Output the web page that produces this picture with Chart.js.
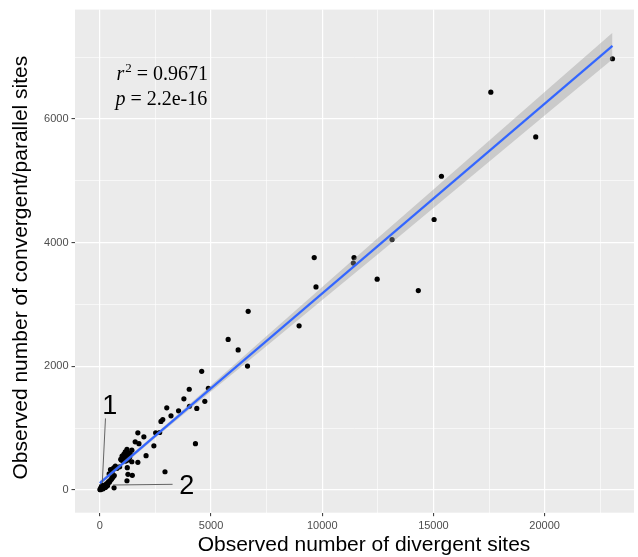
<!DOCTYPE html>
<html>
<head>
<meta charset="utf-8">
<script src="https://cdn.jsdelivr.net/npm/chart.js@4"></script>
<style>
  body { margin: 0; background: #fff; }
</style>
</head>
<body>
<canvas id="sitesChart" width="638" height="557"></canvas>
<script>
// observed sites, one entry per point (x = divergent, y = convergent/parallel)
const divergent = [
  23050, 17580, 19600, 15360, 15030, 13140, 11430, 11400, 9640, 9720,
  12470, 14320, 6670, 8960, 5770, 6220, 6640, 4580, 4880, 4020,
  4720, 4360, 3780, 4030, 3540, 3200, 3010, 2830, 2750, 2690,
  2510, 1710, 1980, 1590, 1760, 2430, 4300, 1440, 2080, 1710,
  1440, 2930, 1460, 1220, 1265, 640, 1235, 1160, 1370, 1030,
  970, 1160, 1295, 1220, 1145, 1265, 1085, 1295, 1000, 1115,
  1340, 940, 1040, 1190, 625, 775, 890, 595,
  20, 40, 60, 85, 100, 120, 150, 180, 200, 230,
  260, 300, 330, 360, 400, 430, 470, 520, 560, 600,
  650, 300, 250, 150, 350, 480, 560, 700, 420, 50,
  10, 80, 110
];
const convergent = [
  6975, 6435, 5710, 5075, 4375, 4050, 3760, 3670, 3760, 3285,
  3410, 3225, 2890, 2655, 2435, 2265, 2005, 1920, 1645, 1630,
  1435, 1320, 1475, 1355, 1280, 1200, 1330, 1140, 1110, 930,
  925, 925, 860, 780, 750, 715, 750, 645, 555, 447,
  457, 295, 237, 150, 254, 35, 361, 565, 582, 528,
  485, 468, 485, 657, 619, 603, 582, 554, 549, 528,
  528, 496, 468, 485, 360, 350, 376, 335,
  5, 12, 18, 25, 35, 22, 45, 58, 48, 72,
  85, 98, 88, 115, 135, 125, 155, 175, 195, 215,
  235, 62, 42, 20, 72, 330, 300, 385, 260, 40,
  10, 60, 80
];

// fitted line and its confidence band
const fitX = [0, 23050];
const fitY = [110, 7182];
const bandX = [0, 2500, 5000, 7500, 10000, 12500, 15000, 17500, 20000, 23050];
const bandUpper = [145, 907, 1694, 2491, 3283, 4075, 4862, 5649, 6436, 7397];
const bandLower = [75, 847, 1594, 2331, 3073, 3815, 4562, 5309, 6056, 6967];

// labelled (major) ticks and all grid positions (major + minor)
const xTickLabels = [0, 5000, 10000, 15000, 20000];
const xGrid = [0, 2500, 5000, 7500, 10000, 12500, 15000, 17500, 20000, 22500];
const yTickLabels = [0, 2000, 4000, 6000];
const yGrid = [0, 1000, 2000, 3000, 4000, 5000, 6000, 7000];

const xTitle = 'Observed number of divergent sites';
const yTitle = 'Observed number of convergent/parallel sites';

const sans = "'Liberation Sans', Arial, Helvetica, sans-serif";
const serif = "'Liberation Serif', 'Times New Roman', serif";

const panelBackground = {
  id: 'panelBackground',
  beforeDraw(chart) {
    const { ctx, chartArea: a } = chart;
    ctx.save();
    ctx.fillStyle = '#ebebeb';
    ctx.fillRect(a.left, a.top, a.right - a.left, a.bottom - a.top);
    ctx.restore();
  }
};

// the "1" / "2" callouts and the r^2 / p text, placed in data units
const callouts = [
  { label: '1', at: [446, 1352], from: [254, 1158], to: [112, 121] },
  { label: '2', at: [3906, 60], from: [3272, 92], to: [594, 81] }
];
const statsAt = { x: 745, y1: 6720, y2: 6317 };

const annotations = {
  id: 'annotations',
  afterDatasetsDraw(chart) {
    const { ctx, scales: { x, y } } = chart;
    ctx.save();
    callouts.forEach(c => {
      ctx.strokeStyle = '#555';
      ctx.lineWidth = 0.9;
      ctx.beginPath();
      ctx.moveTo(x.getPixelForValue(c.from[0]), y.getPixelForValue(c.from[1]));
      ctx.lineTo(x.getPixelForValue(c.to[0]), y.getPixelForValue(c.to[1]));
      ctx.stroke();
      ctx.fillStyle = '#000';
      ctx.font = '27px ' + sans;
      ctx.textAlign = 'center';
      ctx.textBaseline = 'middle';
      ctx.fillText(c.label, x.getPixelForValue(c.at[0]), y.getPixelForValue(c.at[1]));
    });

    ctx.fillStyle = '#000';
    ctx.textAlign = 'left';
    ctx.textBaseline = 'middle';
    let px = x.getPixelForValue(statsAt.x);
    const py1 = y.getPixelForValue(statsAt.y1);
    const py2 = y.getPixelForValue(statsAt.y2);

    ctx.font = 'italic 20px ' + serif;
    ctx.fillText('r', px, py1);
    px += ctx.measureText('r').width + 1;
    ctx.font = '13px ' + serif;
    ctx.fillText('2', px, py1 - 6);
    px += ctx.measureText('2').width;
    ctx.font = '20px ' + serif;
    ctx.fillText(' = 0.9671', px, py1);

    px = x.getPixelForValue(statsAt.x) - 1;
    ctx.font = 'italic 20px ' + serif;
    ctx.fillText('p', px, py2);
    px += ctx.measureText('p').width;
    ctx.font = '20px ' + serif;
    ctx.fillText(' = 2.2e-16', px, py2);
    ctx.restore();
  }
};

// axis titles, centred on the full (partly cropped) panel like the original
const axisTitles = {
  id: 'axisTitles',
  afterDraw(chart) {
    const { ctx, chartArea: a } = chart;
    ctx.save();
    ctx.fillStyle = '#000';
    ctx.font = '21px ' + sans;
    ctx.textAlign = 'center';
    ctx.textBaseline = 'middle';
    ctx.fillText(xTitle, a.left + 289, a.bottom + 33);
    ctx.translate(21, a.top + 258);
    ctx.rotate(-Math.PI / 2);
    ctx.fillText(yTitle, 0, 0);
    ctx.restore();
  }
};

const toPoints = (xs, ys) => xs.map((v, i) => ({ x: v, y: ys[i] }));

new Chart(document.getElementById('sitesChart'), {
  type: 'scatter',
  data: {
    datasets: [
      {
        data: toPoints(divergent, convergent),
        backgroundColor: '#000',
        borderWidth: 0,
        pointRadius: 2.6,
        order: 3
      },
      {
        type: 'line',
        data: toPoints(bandX, bandLower),
        borderWidth: 0,
        borderColor: 'rgba(0,0,0,0)',
        pointRadius: 0,
        fill: false,
        order: 2
      },
      {
        type: 'line',
        data: toPoints(bandX, bandUpper),
        borderWidth: 0,
        borderColor: 'rgba(0,0,0,0)',
        backgroundColor: 'rgba(153,153,153,0.4)',
        pointRadius: 0,
        fill: '-1',
        order: 2
      },
      {
        type: 'line',
        data: toPoints(fitX, fitY),
        borderColor: '#3366ff',
        borderWidth: 2.2,
        pointRadius: 0,
        fill: false,
        order: 1
      }
    ]
  },
  options: {
    responsive: false,
    animation: false,
    events: [],
    layout: { padding: { top: 9, right: 0, left: 0, bottom: 0 } },
    plugins: {
      legend: { display: false },
      tooltip: { enabled: false }
    },
    scales: {
      x: {
        type: 'linear',
        min: -1116,
        max: 24018,
        afterBuildTicks(scale) { scale.ticks = xGrid.map(v => ({ value: v })); },
        afterFit(scale) { scale.height = 44.3; },
        border: { display: false },
        grid: {
          color: '#ffffff',
          lineWidth: ctx => xTickLabels.includes(ctx.tick.value) ? 1.2 : 0.6,
          tickLength: 3.5,
          tickWidth: 1,
          tickColor: ctx => xTickLabels.includes(ctx.tick.value) ? '#333333' : 'rgba(0,0,0,0)'
        },
        ticks: {
          autoSkip: false,
          maxRotation: 0,
          padding: 3,
          color: '#4d4d4d',
          font: { family: sans, size: 11 },
          callback: v => xTickLabels.includes(v) ? String(v) : ''
        },
        title: { display: false }
      },
      y: {
        type: 'linear',
        min: -367,
        max: 7770,
        afterBuildTicks(scale) { scale.ticks = yGrid.map(v => ({ value: v })); },
        afterFit(scale) { scale.width = 75; },
        border: { display: false },
        grid: {
          color: '#ffffff',
          lineWidth: ctx => yTickLabels.includes(ctx.tick.value) ? 1.2 : 0.6,
          tickLength: 3.5,
          tickWidth: 1,
          tickColor: ctx => yTickLabels.includes(ctx.tick.value) ? '#333333' : 'rgba(0,0,0,0)'
        },
        ticks: {
          autoSkip: false,
          padding: 3,
          color: '#4d4d4d',
          font: { family: sans, size: 11 },
          callback: v => yTickLabels.includes(v) ? String(v) : ''
        },
        title: { display: false }
      }
    }
  },
  plugins: [panelBackground, annotations, axisTitles]
});
</script>
</body>
</html>
